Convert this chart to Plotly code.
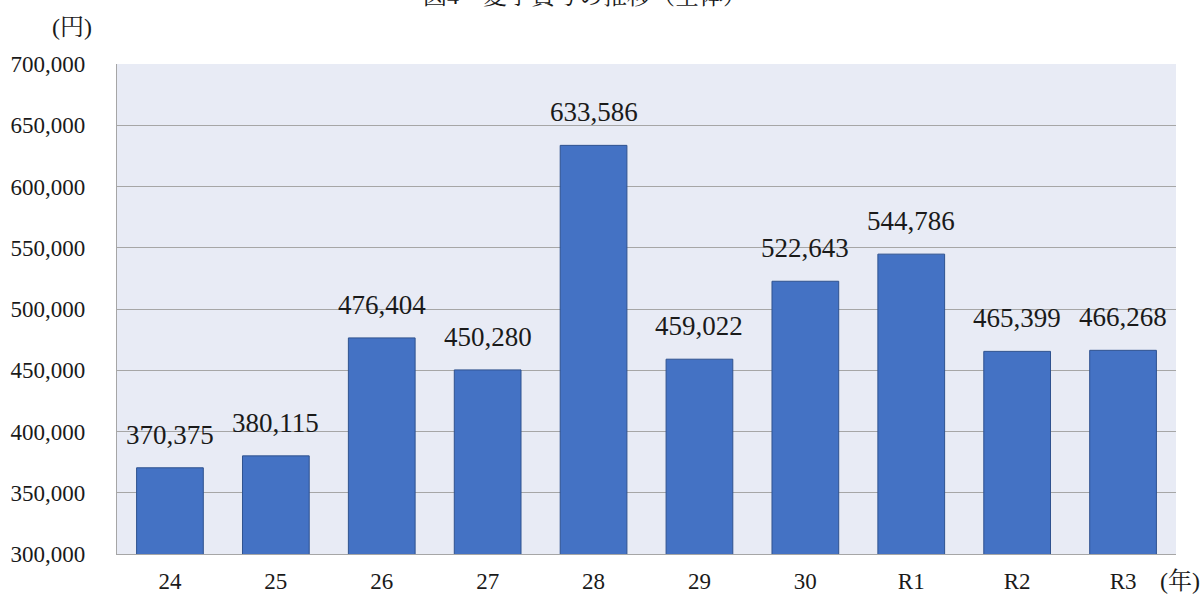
import plotly.graph_objects as go

# 夏季賞与（全体）の年次推移
years = ["24", "25", "26", "27", "28", "29", "30", "R1", "R2", "R3"]
bonus = [370375, 380115, 476404, 450280, 633586, 459022, 522643, 544786, 465399, 466268]
y_ticks = [300000, 350000, 400000, 450000, 500000, 550000, 600000, 650000, 700000]
y_tick_text = [f"{v:,}" for v in y_ticks]

SERIF = "Liberation Serif, Noto Serif CJK JP, Noto Sans CJK JP, serif"
TEXT = "#1a1a1a"
GRID = "#a6a6a6"

fig = go.Figure()
fig.add_trace(go.Bar(
    x=years,
    y=bonus,
    marker=dict(color="#4472C4", line=dict(color="#2F528F", width=1)),
    width=0.63,
    hoverinfo="skip",
))

# 値ラベル（棒の上）：カテゴリ軸では位置をインデックスで指定
for i, v in enumerate(bonus):
    fig.add_annotation(
        x=i, y=v, xref="x", yref="y",
        text=f"{v:,}", showarrow=False,
        yanchor="bottom", yshift=16,
        font=dict(family=SERIF, size=27, color=TEXT),
    )

# 図タイトル
fig.add_annotation(
    x=(585 - 117) / 1059, y=(554 + 4) / 490, xref="paper", yref="paper",
    text="図4　夏季賞与の推移（全体）", showarrow=False,
    xanchor="center", yanchor="middle",
    font=dict(family=SERIF, size=24, color=TEXT),
)
# 単位
fig.add_annotation(
    x=(72 - 117) / 1059, y=(554 - 27) / 490, xref="paper", yref="paper",
    text="(円)", showarrow=False, xanchor="center", yanchor="middle",
    font=dict(family=SERIF, size=24, color=TEXT),
)
fig.add_annotation(
    x=(1180 - 117) / 1059, y=(554 - 581) / 490, xref="paper", yref="paper",
    text="(年)", showarrow=False, xanchor="center", yanchor="middle",
    font=dict(family=SERIF, size=24, color=TEXT),
)

fig.update_layout(
    width=1203, height=595,
    margin=dict(l=117, r=27, t=64, b=41),
    paper_bgcolor="white",
    plot_bgcolor="#E8EBF5",
    showlegend=False,
    bargap=0.37,
    font=dict(family=SERIF, color=TEXT),
)
fig.update_xaxes(
    type="category",
    range=[-0.5, len(years) - 0.5],
    automargin=False,
    showgrid=False,
    showline=True, linecolor=GRID, linewidth=1.2,
    ticks="", ticklabelstandoff=6,
    tickfont=dict(family=SERIF, size=23, color=TEXT),
)
fig.update_yaxes(
    range=[300000, 700000],
    automargin=False,
    tickvals=y_ticks, ticktext=y_tick_text,
    showgrid=True, gridcolor=GRID, gridwidth=1.2,
    showline=True, linecolor=GRID, linewidth=1.2,
    zeroline=False,
    ticks="", ticklabelstandoff=26,
    tickfont=dict(family=SERIF, size=23, color=TEXT),
)

fig.write_html("out.html")
